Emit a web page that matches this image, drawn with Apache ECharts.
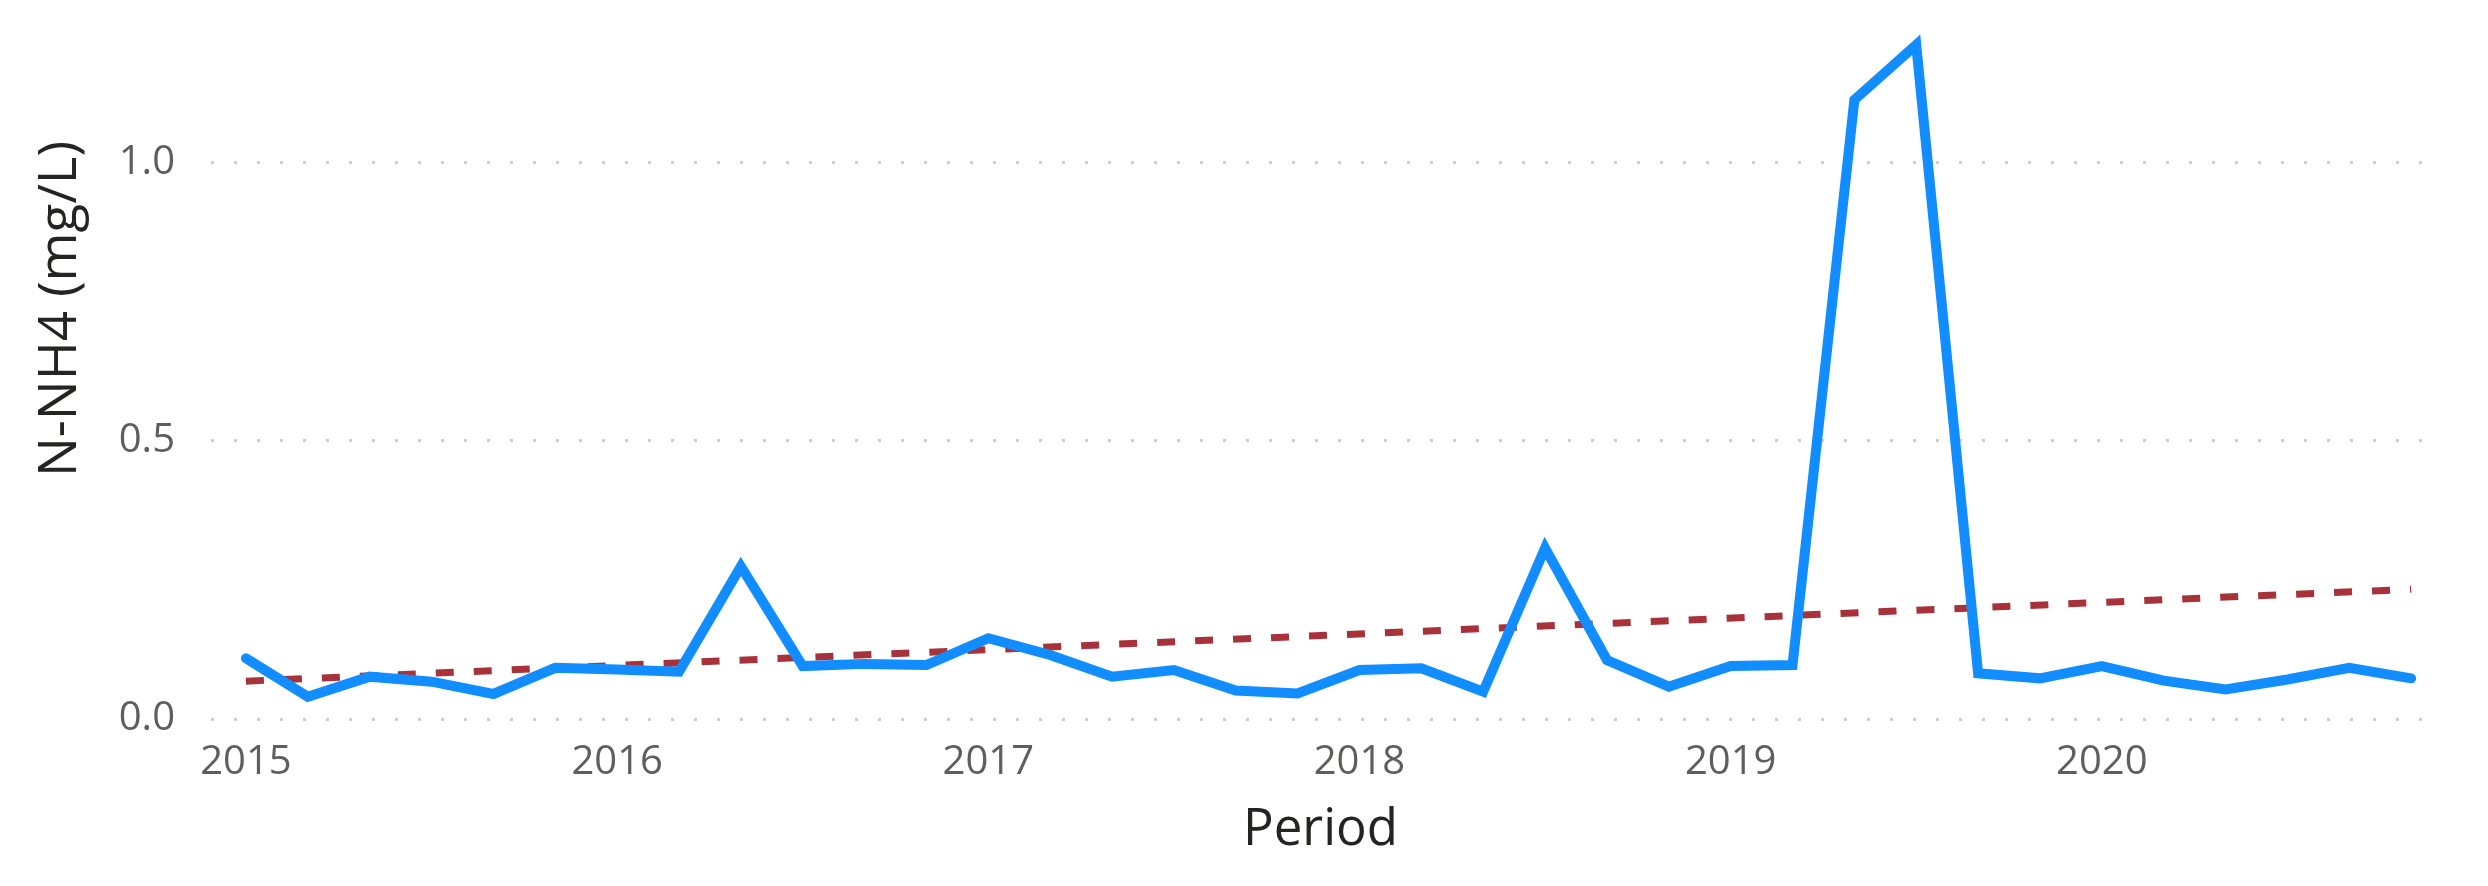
<!DOCTYPE html>
<html>
<head>
<meta charset="utf-8">
<script src="https://cdn.jsdelivr.net/npm/echarts@6/dist/echarts.min.js"></script>
<style>
  html, body { margin: 0; padding: 0; background: #ffffff; }
  #chart { width: 2488px; height: 886px; }
</style>
</head>
<body>
<div id="chart"></div>
<script>
// ---- data ----
const periods = [
  '2015-01','2015-03','2015-05','2015-07','2015-09','2015-11',
  '2016-01','2016-03','2016-05','2016-07','2016-09','2016-11',
  '2017-01','2017-03','2017-05','2017-07','2017-09','2017-11',
  '2018-01','2018-03','2018-05','2018-07','2018-09','2018-11',
  '2019-01','2019-03','2019-05','2019-07','2019-09','2019-11',
  '2020-01','2020-03','2020-05','2020-07','2020-09','2020-11'
];
const nh4Values = [
  0.109, 0.040, 0.076, 0.067, 0.045, 0.092,
  0.089, 0.085, 0.274, 0.095, 0.099, 0.097,
  0.145, 0.115, 0.076, 0.088, 0.051, 0.046,
  0.088, 0.091, 0.049, 0.307, 0.106, 0.058,
  0.095, 0.097, 1.112, 1.211, 0.082, 0.073,
  0.095, 0.069, 0.053, 0.071, 0.092, 0.073
];
const trendEnds = [0.068, 0.233];           // trend line value at first and last period
const yearLabels = ['2015', '2016', '2017', '2018', '2019', '2020'];
const yTicks = [0, 0.5, 1.0];
const yTitle = 'N-NH4 (mg/L)';
const xTitle = 'Period';

// ---- helpers ----
const baseYear = 2015;
function monthIndex(p) {
  const [y, m] = p.split('-').map(Number);
  return (y - baseYear) * 12 + (m - 1);
}
const xs = periods.map(monthIndex);
const lineData = xs.map((x, i) => [x, nh4Values[i]]);
const trendData = [[xs[0], trendEnds[0]], [xs[xs.length - 1], trendEnds[1]]];
const yearTickValues = yearLabels.map(y => (Number(y) - baseYear) * 12);

const FONT = '"Open Sans", "Noto Sans", sans-serif';

const chart = echarts.init(document.getElementById('chart'), null, { renderer: 'canvas' });
chart.setOption({
  animation: false,
  backgroundColor: '#ffffff',
  grid: { left: 211, right: 58, top: 23, bottom: 167, containLabel: false },
  xAxis: {
    type: 'value',
    min: -1.13,
    max: 70.61,
    name: xTitle,
    nameLocation: 'middle',
    nameGap: 86,
    nameTextStyle: { fontFamily: FONT, fontSize: 51, color: '#252423' },
    axisLine: { show: false },
    axisTick: { show: false, customValues: yearTickValues },
    splitLine: { show: false },
    axisLabel: {
      customValues: yearTickValues,
      formatter: v => String(baseYear + Math.round(v / 12)),
      fontFamily: FONT, fontSize: 40, color: '#605E5C', margin: 24
    }
  },
  yAxis: {
    type: 'value',
    min: 0,
    max: 1.25,
    name: yTitle,
    nameLocation: 'middle',
    nameGap: 124,
    nameRotate: 90,
    nameTextStyle: { fontFamily: FONT, fontSize: 53, color: '#252423', padding: [0, 0, 0, 124] },
    axisLine: { show: false },
    axisTick: { show: false, customValues: yTicks },
    axisLabel: {
      customValues: yTicks,
      formatter: v => v.toFixed(1),
      fontFamily: FONT, fontSize: 40, color: '#605E5C', margin: 36
    },
    splitLine: {
      show: true,
      lineStyle: { color: '#CFCFCF', width: 3, type: [3, 20] }
    }
  },
  series: [
    {
      name: 'Trend',
      type: 'line',
      data: trendData,
      showSymbol: false,
      silent: true,
      z: 1,
      lineStyle: { color: '#A8323A', width: 7, type: [18, 20] }
    },
    {
      name: yTitle,
      type: 'line',
      data: lineData,
      showSymbol: false,
      z: 2,
      lineStyle: { color: '#118DFF', width: 10, join: 'miter', cap: 'round' }
    }
  ]
});
</script>
</body>
</html>
